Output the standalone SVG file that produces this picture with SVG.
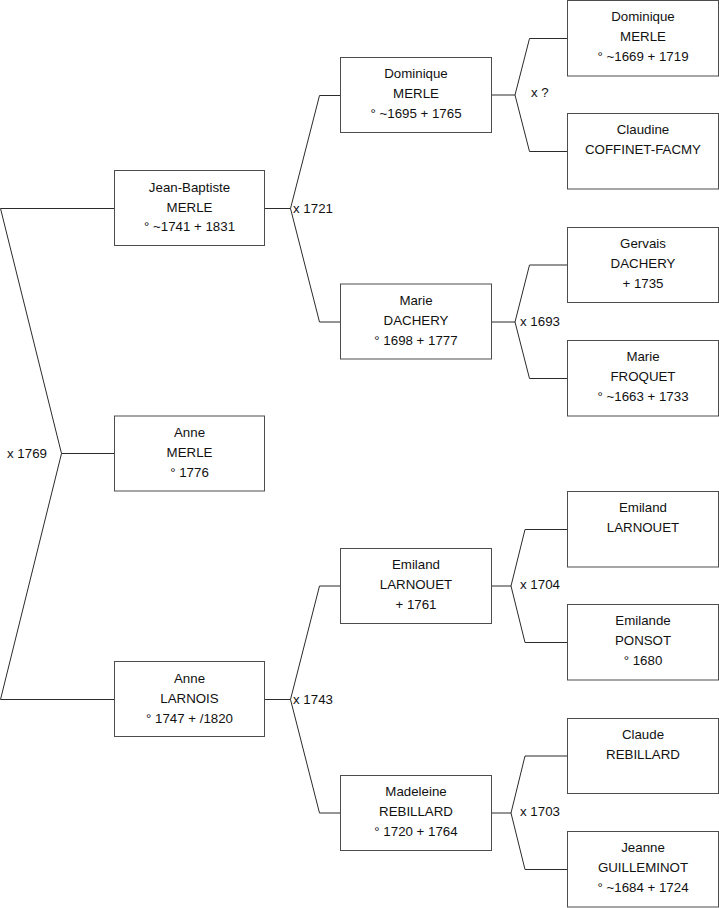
<svg xmlns="http://www.w3.org/2000/svg" width="719" height="908" viewBox="0 0 719 908">
<style>
.box{fill:#fff;stroke:#4d4d4d;stroke-width:1}
.ln{fill:none;stroke:#2b2b2b;stroke-width:1}
text{font-family:"Liberation Sans",Arial,sans-serif;font-size:13.3px;fill:#111}
.c{text-anchor:middle}
</style>
<rect width="719" height="908" fill="#fff"/>
<g id="connectors">
<path class="ln" d="M0.5,208.5 H114.5 M0.5,208.5 L61.5,453.5 L0.5,699.5 H114.5 M61.5,453.5 H114.5"/>
<path class="ln" d="M264.5,208.5 H290.5 M340.5,95.5 H319.5 L290.5,208.5 L319.5,322 H340.5"/>
<path class="ln" d="M491.5,95 H515 M567.5,38.5 H529.5 L515,95 L529.5,151.5 H567.5"/>
<path class="ln" d="M491.5,322 H515 M567.5,265 H529.5 L515,322 L529.5,378.5 H567.5"/>
<path class="ln" d="M264.5,699.5 H290.5 M340.5,586 H319.5 L290.5,699.5 L319.5,813 H340.5"/>
<path class="ln" d="M491.5,586 H511 M567.5,529.5 H525 L511,586 L525,642.5 H567.5"/>
<path class="ln" d="M491.5,813 H511 M567.5,756 H525 L511,813 L525,869.5 H567.5"/>
<text x="7" y="458">x 1769</text>
<text x="293" y="213">x 1721</text>
<text x="531" y="97">x ?</text>
<text x="520" y="326">x 1693</text>
<text x="293" y="704">x 1743</text>
<text x="520" y="589">x 1704</text>
<text x="520" y="816">x 1703</text>
</g>
<g id="n-jean-baptiste">
<rect class="box" x="114.5" y="170.5" width="150" height="75"/>
<text class="c" x="189.5" y="191.5">Jean-Baptiste</text>
<text class="c" x="189.5" y="211.5">MERLE</text>
<text class="c" x="189.5" y="231">° ~1741 + 1831</text>
</g>
<g id="n-anne-merle">
<rect class="box" x="114.5" y="416" width="150" height="75"/>
<text class="c" x="189.5" y="437">Anne</text>
<text class="c" x="189.5" y="457">MERLE</text>
<text class="c" x="189.5" y="477">° 1776</text>
</g>
<g id="n-anne-larnois">
<rect class="box" x="114.5" y="661.5" width="150" height="75"/>
<text class="c" x="189.5" y="682.5">Anne</text>
<text class="c" x="189.5" y="702.5">LARNOIS</text>
<text class="c" x="189.5" y="722.5">° 1747 + /1820</text>
</g>
<g id="n-dominique-1695">
<rect class="box" x="340.5" y="57.5" width="151" height="75"/>
<text class="c" x="416" y="78">Dominique</text>
<text class="c" x="416" y="98">MERLE</text>
<text class="c" x="416" y="118">° ~1695 + 1765</text>
</g>
<g id="n-marie-dachery">
<rect class="box" x="340.5" y="284" width="151" height="75"/>
<text class="c" x="416" y="305">Marie</text>
<text class="c" x="416" y="325">DACHERY</text>
<text class="c" x="416" y="345">° 1698 + 1777</text>
</g>
<g id="n-emiland-1761">
<rect class="box" x="340.5" y="548.5" width="151" height="75"/>
<text class="c" x="416" y="569">Emiland</text>
<text class="c" x="416" y="589">LARNOUET</text>
<text class="c" x="416" y="609">+ 1761</text>
</g>
<g id="n-madeleine">
<rect class="box" x="340.5" y="775.5" width="151" height="75"/>
<text class="c" x="416" y="796">Madeleine</text>
<text class="c" x="416" y="816">REBILLARD</text>
<text class="c" x="416" y="836">° 1720 + 1764</text>
</g>
<g id="n-dominique-1669">
<rect class="box" x="567.5" y="0.5" width="151" height="75.5"/>
<text class="c" x="643" y="21">Dominique</text>
<text class="c" x="643" y="41">MERLE</text>
<text class="c" x="643" y="61">° ~1669 + 1719</text>
</g>
<g id="n-claudine">
<rect class="box" x="567.5" y="113.5" width="151" height="75.5"/>
<text class="c" x="643" y="134">Claudine</text>
<text class="c" x="643" y="154">COFFINET-FACMY</text>
</g>
<g id="n-gervais">
<rect class="box" x="567.5" y="227.5" width="151" height="75"/>
<text class="c" x="643" y="248">Gervais</text>
<text class="c" x="643" y="268">DACHERY</text>
<text class="c" x="643" y="288"> + 1735</text>
</g>
<g id="n-marie-froquet">
<rect class="box" x="567.5" y="340.5" width="151" height="75.5"/>
<text class="c" x="643" y="361">Marie</text>
<text class="c" x="643" y="381">FROQUET</text>
<text class="c" x="643" y="401">° ~1663 + 1733</text>
</g>
<g id="n-emiland">
<rect class="box" x="567.5" y="491.5" width="151" height="75.5"/>
<text class="c" x="643" y="512">Emiland</text>
<text class="c" x="643" y="532">LARNOUET</text>
</g>
<g id="n-emilande">
<rect class="box" x="567.5" y="604.5" width="151" height="75.5"/>
<text class="c" x="643" y="625">Emilande</text>
<text class="c" x="643" y="645">PONSOT</text>
<text class="c" x="643" y="665">° 1680</text>
</g>
<g id="n-claude">
<rect class="box" x="567.5" y="718.5" width="151" height="75"/>
<text class="c" x="643" y="739">Claude</text>
<text class="c" x="643" y="759">REBILLARD</text>
</g>
<g id="n-jeanne">
<rect class="box" x="567.5" y="831.5" width="151" height="75.5"/>
<text class="c" x="643" y="852">Jeanne</text>
<text class="c" x="643" y="872">GUILLEMINOT</text>
<text class="c" x="643" y="892">° ~1684 + 1724</text>
</g>
</svg>
